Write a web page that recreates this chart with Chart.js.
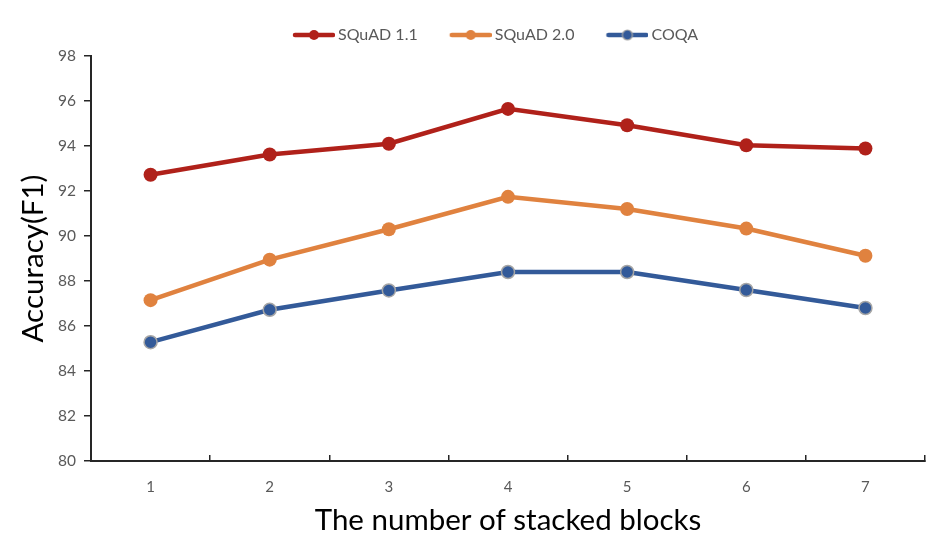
<!DOCTYPE html>
<html>
<head>
<meta charset="utf-8">
<script src="https://cdn.jsdelivr.net/npm/chart.js@4.4.0/dist/chart.umd.min.js"></script>
<style>
  html, body { margin: 0; padding: 0; background: #ffffff; }
  #wrap { width: 938px; height: 550px; position: relative; }
</style>
</head>
<body>
<div id="wrap"><canvas id="c" width="938" height="550"></canvas></div>
<script>
const categories = ['1', '2', '3', '4', '5', '6', '7'];
const squad11 = [92.72, 93.62, 94.1, 95.65, 94.92, 94.03, 93.89];
const squad20 = [87.15, 88.95, 90.3, 91.74, 91.2, 90.33, 89.12];
const coqa = [85.28, 86.72, 87.58, 88.4, 88.4, 87.6, 86.8];
const seriesNames = ['SQuAD 1.1', 'SQuAD 2.0', 'COQA'];
const yTicks = [80, 82, 84, 86, 88, 90, 92, 94, 96, 98];

const RED = '#B0211A';
const ORANGE = '#E0823F';
const BLUE = '#335A99';
const FONT = 'Lato, "Open Sans", sans-serif';

function legendSwatch(color, border) {
  const cv = document.createElement('canvas');
  cv.width = 67; cv.height = 16;
  const g = cv.getContext('2d');
  g.strokeStyle = color; g.lineWidth = 4.5; g.lineCap = 'round';
  g.beginPath(); g.moveTo(27, 8); g.lineTo(65, 8); g.stroke();
  g.beginPath(); g.arc(46, 8, 5, 0, Math.PI * 2);
  g.fillStyle = color; g.fill();
  if (border) { g.lineWidth = 1.2; g.strokeStyle = border; g.stroke(); }
  return cv;
}

const swatches = [legendSwatch(RED), legendSwatch(ORANGE), legendSwatch(BLUE, '#A6A6A6')];

const legendGap = {
  id: 'legendGap',
  afterInit(chart) {
    const lg = chart.legend;
    if (lg) {
      const origFit = lg.fit.bind(lg);
      lg.fit = function () { origFit(); this.height += 3; };
    }
  }
};

new Chart(document.getElementById('c'), {
  type: 'line',
  data: {
    labels: categories,
    datasets: [
      { label: seriesNames[0], data: squad11, borderColor: RED, backgroundColor: RED,
        pointBackgroundColor: RED, pointBorderColor: RED, borderWidth: 4.5, pointRadius: 7, pointBorderWidth: 0 },
      { label: seriesNames[1], data: squad20, borderColor: ORANGE, backgroundColor: ORANGE,
        pointBackgroundColor: ORANGE, pointBorderColor: ORANGE, borderWidth: 4.5, pointRadius: 7, pointBorderWidth: 0 },
      { label: seriesNames[2], data: coqa, borderColor: BLUE, backgroundColor: BLUE,
        pointBackgroundColor: BLUE, pointBorderColor: '#A6A6A6', borderWidth: 4.5, pointRadius: 6.5, pointBorderWidth: 1.5 }
    ]
  },
  plugins: [legendGap],
  options: {
    responsive: false,
    animation: false,
    devicePixelRatio: 1,
    layout: { padding: { top: 15, right: 13, bottom: 0, left: 46 } },
    plugins: {
      tooltip: { enabled: false },
      legend: {
        position: 'top',
        labels: {
          usePointStyle: true,
          pointStyleWidth: 57,
          padding: 12,
          color: '#595959',
          font: { family: FONT, size: 16 },
          generateLabels: (chart) => chart.data.datasets.map((ds, i) => ({
            text: ds.label, pointStyle: swatches[i], fillStyle: ds.borderColor,
            strokeStyle: ds.borderColor, lineWidth: 0, hidden: false, datasetIndex: i,
            fontColor: '#595959'
          }))
        }
      }
    },
    scales: {
      x: {
        type: 'category',
        offset: true,
        grid: { display: true, offset: true, drawOnChartArea: false, drawTicks: true,
                tickLength: -6, color: '#262626', lineWidth: 1.5 },
        border: { display: true, color: '#262626', width: 2 },
        ticks: { color: '#595959', padding: 23, font: { family: FONT, size: 15 }, maxRotation: 0 },
        title: { display: true, text: 'The number of stacked blocks', color: '#000000',
                 font: { family: FONT, size: 29.5 }, padding: { top: 0, bottom: 12 } },
        afterFit: (s) => { s.height = 89; }
      },
      y: {
        min: 80, max: 98,
        afterBuildTicks: (s) => { s.ticks = yTicks.map(v => ({ value: v })); },
        grid: { display: true, drawOnChartArea: false, drawTicks: true, tickLength: 7,
                color: '#262626', lineWidth: 1.5 },
        border: { display: true, color: '#262626', width: 2 },
        ticks: { color: '#595959', padding: 8, font: { family: FONT, size: 15.5 } },
        title: { display: true, text: 'Accuracy(F1)', color: '#000000',
                 font: { family: FONT, size: 29.5 }, padding: { top: -30, bottom: 0 } },
        afterFit: (s) => { s.width = 45; }
      }
    }
  }
});
</script>
</body>
</html>
